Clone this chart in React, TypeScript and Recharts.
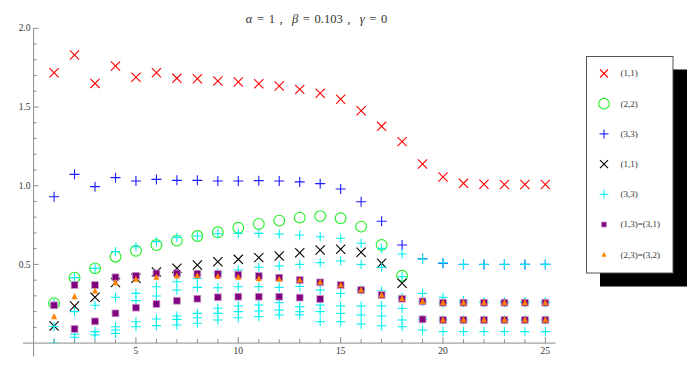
import React from 'react';
import { ScatterChart, Scatter, XAxis, YAxis, ReferenceLine, Legend } from 'recharts';

// ---------- data ----------
const xValues = [1, 2, 3, 4, 5, 6, 7, 8, 9, 10, 11, 12, 13, 14, 15, 16, 17, 18, 19, 20, 21, 22, 23, 24, 25];

const red11 = [1.718, 1.83, 1.65, 1.76, 1.689, 1.718, 1.682, 1.68, 1.665, 1.659, 1.648, 1.633, 1.612, 1.587, 1.549, 1.476, 1.377, 1.28, 1.138, 1.055, 1.015, 1.009, 1.008, 1.008, 1.008];
const green22 = [0.253, 0.416, 0.475, 0.549, 0.587, 0.623, 0.651, 0.68, 0.704, 0.733, 0.757, 0.778, 0.797, 0.807, 0.793, 0.74, 0.623, 0.428];
const blue33 = [0.93, 1.072, 0.994, 1.051, 1.03, 1.04, 1.034, 1.034, 1.03, 1.03, 1.032, 1.03, 1.024, 1.013, 0.979, 0.898, 0.774, 0.623, 0.536, 0.507, 0.5, 0.5, 0.5, 0.5, 0.5];
const black11 = [0.109, 0.236, 0.291, 0.385, 0.412, 0.452, 0.475, 0.496, 0.517, 0.532, 0.543, 0.553, 0.574, 0.591, 0.596, 0.577, 0.507, 0.38];

const cyanA = [0.25, 0.416, 0.475, 0.581, 0.612, 0.645, 0.672, 0.68, 0.695, 0.697, 0.697, 0.693, 0.687, 0.676, 0.666, 0.634, 0.602, 0.566, 0.534, 0.51, 0.5, 0.5, 0.5, 0.5, 0.5];
const cyanB = [0.105, 0.2, 0.24, 0.291, 0.316, 0.358, 0.39, 0.41, 0.445, 0.464, 0.482, 0.49, 0.5, 0.511, 0.522, 0.5, 0.482, 0.422, 0.316, 0.291, 0.27, 0.262, 0.262, 0.262, 0.262];
const cyanC = [null, null, null, null, 0.27, 0.299, 0.337, 0.354, 0.352, 0.358, 0.358, 0.354, 0.36, 0.337, 0.316, 0.337, 0.331, 0.29, 0.263, 0.255, 0.257, 0.257, 0.257, 0.257, 0.257];
const cyanD = [null, 0.056, 0.073, 0.104, 0.136, 0.153, 0.172, 0.189, 0.221, 0.236, 0.242, 0.257, 0.231, 0.242, 0.236, 0.236, 0.236, 0.221, 0.151, 0.147, 0.147, 0.147, 0.147, 0.147, 0.147];
const cyanE = [null, 0.037, 0.051, 0.083, 0.104, 0.111, 0.151, 0.161, 0.189, 0.2, 0.204, 0.21, 0.2, 0.2, 0.189, 0.179, 0.172, 0.147, 0.083, 0.073, 0.073, 0.073, 0.073, 0.073, 0.073];
const cyanF = [0.0, null, null, 0.062, null, null, 0.115, 0.126, 0.147, 0.161, 0.168, 0.179, 0.18, 0.136, 0.136, 0.121, 0.11, 0.104, null, null, null, null, null, null, null];

const purpleUpper = [0.24, 0.369, 0.369, 0.418, 0.428, 0.443, 0.443, 0.441, 0.439, 0.435, 0.426, 0.416, 0.401, 0.386, 0.369, 0.337, 0.306, 0.282, 0.265, 0.257, 0.257, 0.257, 0.257, 0.257, 0.257];
const purpleLower = [null, 0.09, 0.138, 0.189, 0.225, 0.248, 0.269, 0.282, 0.291, 0.295, 0.295, 0.295, 0.289, 0.28, null, null, null, null, 0.151, 0.147, 0.147, 0.147, 0.147, 0.147, 0.147];
const orangeUpper = [0.168, 0.295, 0.331, 0.384, 0.405, 0.418, 0.426, 0.428, 0.424, 0.418, 0.409, 0.405, 0.401, 0.386, 0.369, 0.337, 0.306, 0.282, 0.265, 0.257, 0.257, 0.257, 0.257, 0.257, 0.257];
const orangeLower = [null, null, null, null, null, null, null, null, null, null, null, null, null, null, null, null, null, null, null, 0.147, 0.147, 0.147, 0.147, 0.147, 0.147];

const seriesNames = ['(1,1)', '(2,2)', '(3,3)', '(1,1)', '(3,3)', '(1,3)=(3,1)', '(2,3)=(3,2)'];
const xTicks = [1, 2, 3, 4, 5, 6, 7, 8, 9, 10, 11, 12, 13, 14, 15, 16, 17, 18, 19, 20, 21, 22, 23, 24, 25];
const yTicks = [0.1, 0.2, 0.3, 0.4, 0.5, 0.6, 0.7, 0.8, 0.9, 1.0, 1.1, 1.2, 1.3, 1.4, 1.5, 1.6, 1.7, 1.8, 1.9, 2.0];

const toPoints = (...arrs: (number | null)[][]) =>
  arrs.flatMap((arr) =>
    arr
      .map((y, i) => ({ x: xValues[i], y }))
      .filter((d) => d.y !== null && d.y !== undefined)
  );

const redData = toPoints(red11);
const greenData = toPoints(green22);
const blueData = toPoints(blue33);
const blackData = toPoints(black11);
const cyanData = toPoints(cyanA, cyanB, cyanC, cyanD, cyanE, cyanF);
const purpleData = toPoints(purpleUpper, purpleLower);
const orangeData = toPoints(orangeUpper, orangeLower);

// ---------- styles ----------
const COLORS = {
  red: '#ff0000',
  green: '#22ee22',
  blue: '#1a1aff',
  black: '#000000',
  cyan: '#00f0f0',
  purple: '#800080',
  orange: '#ff8000',
};
const axisColor = '#8c8c8c';
const fontFamily = '"Liberation Serif", "Times New Roman", serif';

// ---------- marker shapes ----------
const XMark = ({ cx, cy, color, r = 4.5 }: any) => (
  <g stroke={color} strokeWidth={1.1}>
    <line x1={cx - r} y1={cy - r} x2={cx + r} y2={cy + r} />
    <line x1={cx - r} y1={cy + r} x2={cx + r} y2={cy - r} />
  </g>
);
const PlusMark = ({ cx, cy, color, r = 5 }: any) => (
  <g stroke={color} strokeWidth={1.1}>
    <line x1={cx - r} y1={cy} x2={cx + r} y2={cy} />
    <line x1={cx} y1={cy - r} x2={cx} y2={cy + r} />
  </g>
);
const CircleMark = ({ cx, cy, color, r = 5.3 }: any) => (
  <circle cx={cx} cy={cy} r={r} fill="none" stroke={color} strokeWidth={1.1} />
);
const SquareMark = ({ cx, cy, color, s = 6.6 }: any) => (
  <rect x={cx - s / 2} y={cy - s / 2} width={s} height={s} fill={color} stroke="#c898c8" strokeWidth={0.8} />
);
const TriMark = ({ cx, cy, color, s = 6 }: any) => (
  <polygon
    points={`${cx},${cy - s * 0.6} ${cx - s / 2},${cy + s * 0.42} ${cx + s / 2},${cy + s * 0.42}`}
    fill={color}
  />
);

const legendShapes = [
  (cx: number, cy: number) => <XMark cx={cx} cy={cy} color={COLORS.red} r={4} />,
  (cx: number, cy: number) => <CircleMark cx={cx} cy={cy} color={COLORS.green} r={5.3} />,
  (cx: number, cy: number) => <PlusMark cx={cx} cy={cy} color={COLORS.blue} r={4.5} />,
  (cx: number, cy: number) => <XMark cx={cx} cy={cy} color={COLORS.black} r={4} />,
  (cx: number, cy: number) => <PlusMark cx={cx} cy={cy} color={COLORS.cyan} r={4.5} />,
  (cx: number, cy: number) => <SquareMark cx={cx} cy={cy} color={COLORS.purple} s={5} />,
  (cx: number, cy: number) => <TriMark cx={cx} cy={cy} color={COLORS.orange} s={5} />,
];

// ---------- ticks ----------
const XTick = (props: any) => {
  const { x, y, payload } = props;
  const v = payload.value;
  const major = v % 5 === 0;
  return (
    <g>
      <line x1={x} x2={x} y1={y} y2={y - (major ? 6 : 4)} stroke={axisColor} strokeWidth={1} />
      {major && (
        <text x={x} y={y + 11} textAnchor="middle" fontSize={9.5} fontFamily={fontFamily} fill="#333">
          {v}
        </text>
      )}
    </g>
  );
};

const YTick = (props: any) => {
  const { x, y, payload } = props;
  const v = payload.value;
  const major = Math.abs(v * 2 - Math.round(v * 2)) < 1e-6;
  return (
    <g>
      <line x1={x} x2={x + (major ? 5 : 3)} y1={y} y2={y} stroke={axisColor} strokeWidth={1} />
      {major && (
        <text x={x - 3} y={y} dy="0.33em" textAnchor="end" fontSize={9.5} fontFamily={fontFamily} fill="#333">
          {v.toFixed(1)}
        </text>
      )}
    </g>
  );
};

// ---------- legend ----------
const LegendBox = () => (
  <svg width={104} height={234} style={{ display: 'block' }}>
    <rect x={14} y={13.5} width={87} height={217} fill="#000" />
    <rect x={0.5} y={0.5} width={86.5} height={216.5} fill="#fff" stroke="#555" strokeWidth={1} />
    {seriesNames.map((name, i) => {
      const cy = 17.5 + i * 30.2;
      return (
        <g key={i}>
          {legendShapes[i](18, cy)}
          <text x={34.5} y={cy} dy="0.33em" fontSize={9} fontFamily={fontFamily} fill="#333">
            {name}
          </text>
        </g>
      );
    })}
  </svg>
);

export default function App() {
  return (
    <div style={{ position: 'absolute', left: 0, top: 0, width: 697, height: 384, background: '#fff' }}>
      <div
        style={{
          position: 'absolute',
          left: 0,
          top: 12,
          width: 633,
          textAlign: 'center',
          fontFamily,
          fontSize: 12.5,
          wordSpacing: '1.5px',
          color: '#333',
          whiteSpace: 'pre',
          lineHeight: '14px',
        }}
      >
        <i>α</i>{' = 1 ,  '}<i>β</i>{' = 0.103 ,  '}<i>γ</i>{' = 0'}
      </div>
      <ScatterChart
        width={697}
        height={384}
        margin={{ top: 28.3, right: 141.4, bottom: 10.9, left: 3.6 }}
      >
        <XAxis
          type="number"
          dataKey="x"
          domain={[0, 25.5]}
          allowDataOverflow
          ticks={xTicks}
          interval={0}
          height={30}
          tickSize={0}
          tickMargin={0}
          tickLine={false}
          axisLine={{ stroke: axisColor }}
          tick={(p: any) => <XTick {...p} />}
        />
        <YAxis
          type="number"
          dataKey="y"
          domain={[0, 2]}
          allowDataOverflow
          ticks={yTicks}
          interval={0}
          width={30}
          tickSize={0}
          tickMargin={0}
          tickLine={false}
          axisLine={{ stroke: axisColor }}
          tick={(p: any) => <YTick {...p} />}
        />
        <ReferenceLine
          segment={[{ x: -0.52, y: 0 }, { x: 0, y: 0 }]}
          stroke={axisColor}
          ifOverflow="visible"
        />
        <ReferenceLine
          segment={[{ x: 0, y: -0.086 }, { x: 0, y: 0 }]}
          stroke={axisColor}
          ifOverflow="visible"
        />
        <Scatter
          name={seriesNames[0]}
          data={redData}
          fill={COLORS.red}
          isAnimationActive={false}
          shape={(p: any) => <XMark cx={p.cx} cy={p.cy} color={COLORS.red} r={4.6} />}
        />
        <Scatter
          name={seriesNames[1]}
          data={greenData}
          fill={COLORS.green}
          isAnimationActive={false}
          shape={(p: any) => <CircleMark cx={p.cx} cy={p.cy} color={COLORS.green} r={5.4} />}
        />
        <Scatter
          name={seriesNames[2]}
          data={blueData}
          fill={COLORS.blue}
          isAnimationActive={false}
          shape={(p: any) => <PlusMark cx={p.cx} cy={p.cy} color={COLORS.blue} r={5} />}
        />
        <Scatter
          name={seriesNames[3]}
          data={blackData}
          fill={COLORS.black}
          isAnimationActive={false}
          shape={(p: any) => <XMark cx={p.cx} cy={p.cy} color={COLORS.black} r={4.6} />}
        />
        <Scatter
          name={seriesNames[4]}
          data={cyanData}
          fill={COLORS.cyan}
          isAnimationActive={false}
          shape={(p: any) => <PlusMark cx={p.cx} cy={p.cy} color={COLORS.cyan} r={4.6} />}
        />
        <Scatter
          name={seriesNames[5]}
          data={purpleData}
          fill={COLORS.purple}
          isAnimationActive={false}
          shape={(p: any) => <SquareMark cx={p.cx} cy={p.cy} color={COLORS.purple} s={6.8} />}
        />
        <Scatter
          name={seriesNames[6]}
          data={orangeData}
          fill={COLORS.orange}
          isAnimationActive={false}
          shape={(p: any) => <TriMark cx={p.cx} cy={p.cy} color={COLORS.orange} s={6} />}
        />
        <Legend
          layout="horizontal"
          verticalAlign="middle"
          align="center"
          content={() => <LegendBox />}
          wrapperStyle={{ position: 'absolute', left: 586, top: 56, width: 104, height: 234 }}
        />
      </ScatterChart>
    </div>
  );
}
